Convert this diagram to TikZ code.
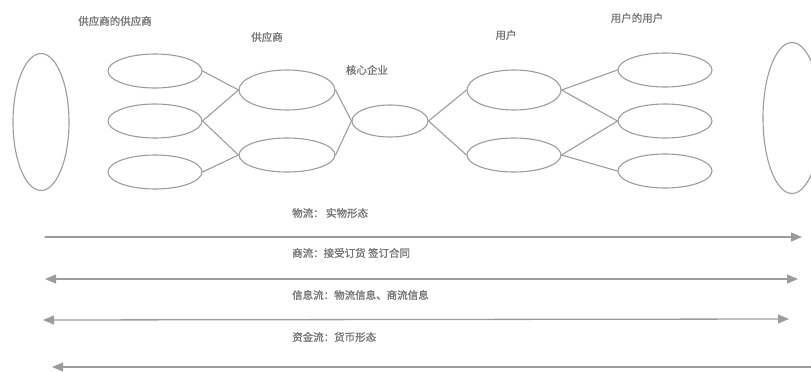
\documentclass[tikz,border=0pt]{standalone}
\usepackage{fontspec}
\newfontfamily\cjk[FakeBold=1.2]{Noto Sans CJK SC}
\usetikzlibrary{shapes.geometric, arrows.meta}
\definecolor{linegray}{HTML}{9C9C9C}
\definecolor{textgray}{HTML}{737373}

\begin{document}
\begin{tikzpicture}[x=1pt, y=-1pt, line cap=round, line join=round, >={Triangle[length=11pt, width=9pt]},
    oval/.style={ellipse, draw=linegray, line width=1.1pt, inner sep=0pt, minimum width=94pt, minimum height=34pt},
    bigoval/.style={oval, minimum width=56pt, minimum height=137pt},
    lbl/.style={text=textgray, font=\cjk\fontsize{10.5}{12}\selectfont, inner sep=0pt},
    link/.style={draw=linegray, line width=1.1pt},
    flow/.style={draw=linegray, line width=1.3pt}]

    % Frame
    \useasboundingbox (0,0) rectangle (811,372);
    \clip (0,0) rectangle (811,372);

    % Outer ends
    \node[bigoval] (bigL) at (41,122) {};
    \node[bigoval, minimum width=58pt, minimum height=151pt] (bigR) at (792,118) {};

    % Suppliers of suppliers
    \node[oval] (ss1) at (155,71) {};
    \node[oval] (ss2) at (155,121) {};
    \node[oval] (ss3) at (155,172) {};

    % Suppliers
    \node[oval, minimum width=96pt, minimum height=40pt] (sup1) at (287,90) {};
    \node[oval, minimum width=96pt] (sup2) at (287,155) {};

    % Core enterprise
    \node[oval, minimum width=76pt, minimum height=32pt] (core) at (390,121) {};

    % Users
    \node[oval, minimum height=40pt] (usr1) at (514,90) {};
    \node[oval] (usr2) at (514,155) {};

    % Users of users
    \node[oval] (uu1) at (665,70) {};
    \node[oval] (uu2) at (665,121) {};
    \node[oval] (uu3) at (665,171) {};

    % Links
    \draw[link] (ss1.east) -- (sup1.west);
    \draw[link] (ss2.east) -- (sup1.west);
    \draw[link] (ss2.east) -- (sup2.west);
    \draw[link] (ss3.east) -- (sup2.west);
    \draw[link] (sup1.east) -- (core.west);
    \draw[link] (sup2.east) -- (core.west);
    \draw[link] (core.east) -- (usr1.west);
    \draw[link] (core.east) -- (usr2.west);
    \draw[link] (usr1.east) -- (uu1.west);
    \draw[link] (usr1.east) -- (uu2.west);
    \draw[link] (usr2.east) -- (uu2.west);
    \draw[link] (usr2.east) -- (uu3.west);

    % Titles
    \node[lbl] (tss) at (115,21) {供应商的供应商};
    \node[lbl] (tsup) at (267,37) {供应商};
    \node[lbl] (tcore) at (367,70) {核心企业};
    \node[lbl] (tusr) at (506,35) {用户};
    \node[lbl] (tuu) at (637,18) {用户的用户};

    % Flows
    \node[lbl, anchor=west] (tlog) at (292,213) {物流： 实物形态};
    \node[lbl, anchor=west] (tcom) at (292,253) {商流：接受订货 签订合同};
    \node[lbl, anchor=west] (tinf) at (292,295) {信息流：物流信息、商流信息};
    \node[lbl, anchor=west] (tcap) at (292,337) {资金流：货币形态};

    \coordinate (log1) at (45,237);  \coordinate (log2) at (802,237);
    \coordinate (com1) at (45,279);  \coordinate (com2) at (798,279);
    \coordinate (inf1) at (43,320);  \coordinate (inf2) at (789,319);
    \coordinate (cap1) at (52,367);  \coordinate (cap2) at (812,367);

    \draw[flow, ->] (log1) -- (log2);
    \draw[flow, <->] (com1) -- (com2);
    \draw[flow, <->] (inf1) -- (inf2);
    \draw[flow, <-] (cap1) -- (cap2);

\end{tikzpicture}
\end{document}
